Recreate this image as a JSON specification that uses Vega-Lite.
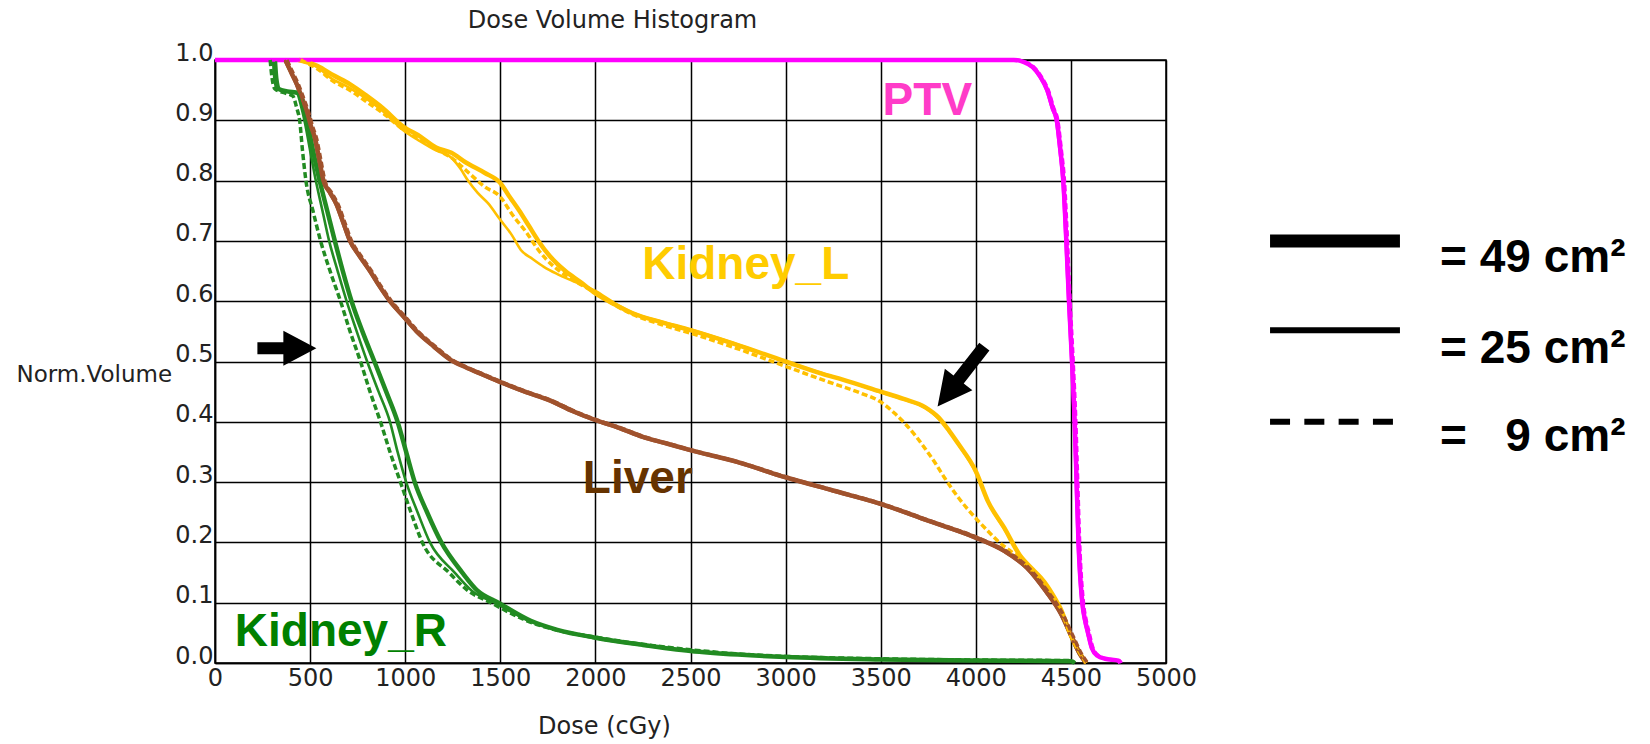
{
"$schema": "https://vega.github.io/schema/vega-lite/v6.json",
"autosize": {"type": "none"},
"padding": {"left": 215, "top": 60, "right": 484, "bottom": 81},
"width": 951,
"height": 603,
"background": "white",
"title": {"text": "Dose Volume Histogram", "anchor": "middle", "frame": "group", "dx": -78, "dy": 29, "baseline": "bottom", "offset": 13, "font": "DejaVu Sans", "fontSize": 24, "fontWeight": "normal", "color": "#222"},
"config": {
  "view": {"stroke": "#000", "strokeWidth": 1.5},
  "axis": {"labelFont": "DejaVu Sans", "labelFontSize": 24, "labelColor": "#222", "titleFont": "DejaVu Sans", "titleFontSize": 23, "titleFontWeight": "normal", "titleColor": "#222", "gridColor": "#000", "gridOpacity": 1, "gridWidth": 1.5, "domainColor": "#000", "domainWidth": 1.5, "ticks": false, "labelFlush": false, "labelOverlap": false}
},
"datasets": {
"curves": [
{"s":"PTV","f":"49","d":0,"v":1},{"s":"PTV","f":"49","d":4200,"v":1},{"s":"PTV","f":"49","d":4250,"v":0.997},{"s":"PTV","f":"49","d":4300,"v":0.988},{"s":"PTV","f":"49","d":4340,"v":0.972},{"s":"PTV","f":"49","d":4376,"v":0.95},{"s":"PTV","f":"49","d":4405,"v":0.92},{"s":"PTV","f":"49","d":4426,"v":0.9},{"s":"PTV","f":"49","d":4445,"v":0.85},{"s":"PTV","f":"49","d":4460,"v":0.8},{"s":"PTV","f":"49","d":4476,"v":0.7},{"s":"PTV","f":"49","d":4490,"v":0.6},{"s":"PTV","f":"49","d":4506,"v":0.5},{"s":"PTV","f":"49","d":4520,"v":0.4},{"s":"PTV","f":"49","d":4530,"v":0.3},{"s":"PTV","f":"49","d":4540,"v":0.2},{"s":"PTV","f":"49","d":4560,"v":0.1},{"s":"PTV","f":"49","d":4575,"v":0.07},{"s":"PTV","f":"49","d":4590,"v":0.05},{"s":"PTV","f":"49","d":4610,"v":0.025},{"s":"PTV","f":"49","d":4640,"v":0.012},{"s":"PTV","f":"49","d":4680,"v":0.007},{"s":"PTV","f":"49","d":4750,"v":0.004},{"s":"PTV","f":"49","d":4760,"v":0},
{"s":"PTV","f":"25","d":0,"v":1},{"s":"PTV","f":"25","d":4195,"v":1},{"s":"PTV","f":"25","d":4245,"v":0.997},{"s":"PTV","f":"25","d":4295,"v":0.988},{"s":"PTV","f":"25","d":4335,"v":0.972},{"s":"PTV","f":"25","d":4371,"v":0.95},{"s":"PTV","f":"25","d":4400,"v":0.92},{"s":"PTV","f":"25","d":4421,"v":0.9},{"s":"PTV","f":"25","d":4440,"v":0.85},{"s":"PTV","f":"25","d":4456,"v":0.8},{"s":"PTV","f":"25","d":4472,"v":0.7},{"s":"PTV","f":"25","d":4486,"v":0.6},{"s":"PTV","f":"25","d":4502,"v":0.5},{"s":"PTV","f":"25","d":4516,"v":0.4},{"s":"PTV","f":"25","d":4526,"v":0.3},{"s":"PTV","f":"25","d":4536,"v":0.2},{"s":"PTV","f":"25","d":4556,"v":0.1},{"s":"PTV","f":"25","d":4571,"v":0.07},{"s":"PTV","f":"25","d":4586,"v":0.05},{"s":"PTV","f":"25","d":4606,"v":0.025},{"s":"PTV","f":"25","d":4636,"v":0.012},{"s":"PTV","f":"25","d":4676,"v":0.007},{"s":"PTV","f":"25","d":4745,"v":0.004},{"s":"PTV","f":"25","d":4755,"v":0},
{"s":"PTV","f":"9","d":0,"v":1},{"s":"PTV","f":"9","d":4205,"v":1},{"s":"PTV","f":"9","d":4255,"v":0.997},{"s":"PTV","f":"9","d":4305,"v":0.988},{"s":"PTV","f":"9","d":4345,"v":0.972},{"s":"PTV","f":"9","d":4381,"v":0.95},{"s":"PTV","f":"9","d":4410,"v":0.92},{"s":"PTV","f":"9","d":4431,"v":0.9},{"s":"PTV","f":"9","d":4450,"v":0.85},{"s":"PTV","f":"9","d":4466,"v":0.8},{"s":"PTV","f":"9","d":4482,"v":0.7},{"s":"PTV","f":"9","d":4496,"v":0.6},{"s":"PTV","f":"9","d":4512,"v":0.5},{"s":"PTV","f":"9","d":4526,"v":0.4},{"s":"PTV","f":"9","d":4536,"v":0.3},{"s":"PTV","f":"9","d":4546,"v":0.2},{"s":"PTV","f":"9","d":4566,"v":0.1},{"s":"PTV","f":"9","d":4581,"v":0.07},{"s":"PTV","f":"9","d":4596,"v":0.05},{"s":"PTV","f":"9","d":4616,"v":0.025},{"s":"PTV","f":"9","d":4646,"v":0.012},{"s":"PTV","f":"9","d":4686,"v":0.007},{"s":"PTV","f":"9","d":4755,"v":0.004},{"s":"PTV","f":"9","d":4765,"v":0},

{"s":"Kidney_L","f":"49","d":440,"v":1},{"s":"Kidney_L","f":"49","d":540,"v":0.99},{"s":"Kidney_L","f":"49","d":620,"v":0.975},{"s":"Kidney_L","f":"49","d":709,"v":0.96},{"s":"Kidney_L","f":"49","d":800,"v":0.94},{"s":"Kidney_L","f":"49","d":883,"v":0.92},{"s":"Kidney_L","f":"49","d":988,"v":0.89},{"s":"Kidney_L","f":"49","d":1080,"v":0.873},{"s":"Kidney_L","f":"49","d":1162,"v":0.855},{"s":"Kidney_L","f":"49","d":1243,"v":0.846},{"s":"Kidney_L","f":"49","d":1319,"v":0.83},{"s":"Kidney_L","f":"49","d":1417,"v":0.813},{"s":"Kidney_L","f":"49","d":1500,"v":0.796},{"s":"Kidney_L","f":"49","d":1545,"v":0.775},{"s":"Kidney_L","f":"49","d":1600,"v":0.75},{"s":"Kidney_L","f":"49","d":1650,"v":0.725},{"s":"Kidney_L","f":"49","d":1700,"v":0.7},{"s":"Kidney_L","f":"49","d":1760,"v":0.675},{"s":"Kidney_L","f":"49","d":1842,"v":0.65},{"s":"Kidney_L","f":"49","d":1920,"v":0.632},{"s":"Kidney_L","f":"49","d":2000,"v":0.613},{"s":"Kidney_L","f":"49","d":2100,"v":0.595},{"s":"Kidney_L","f":"49","d":2196,"v":0.58},{"s":"Kidney_L","f":"49","d":2350,"v":0.565},{"s":"Kidney_L","f":"49","d":2500,"v":0.552},{"s":"Kidney_L","f":"49","d":2722,"v":0.53},{"s":"Kidney_L","f":"49","d":3000,"v":0.5},{"s":"Kidney_L","f":"49","d":3190,"v":0.48},{"s":"Kidney_L","f":"49","d":3300,"v":0.47},{"s":"Kidney_L","f":"49","d":3500,"v":0.45},{"s":"Kidney_L","f":"49","d":3620,"v":0.438},{"s":"Kidney_L","f":"49","d":3735,"v":0.424},{"s":"Kidney_L","f":"49","d":3805,"v":0.407},{"s":"Kidney_L","f":"49","d":3860,"v":0.385},{"s":"Kidney_L","f":"49","d":3909,"v":0.363},{"s":"Kidney_L","f":"49","d":4000,"v":0.318},{"s":"Kidney_L","f":"49","d":4064,"v":0.268},{"s":"Kidney_L","f":"49","d":4150,"v":0.224},{"s":"Kidney_L","f":"49","d":4229,"v":0.18},{"s":"Kidney_L","f":"49","d":4300,"v":0.155},{"s":"Kidney_L","f":"49","d":4359,"v":0.135},{"s":"Kidney_L","f":"49","d":4420,"v":0.105},{"s":"Kidney_L","f":"49","d":4446,"v":0.09},{"s":"Kidney_L","f":"49","d":4498,"v":0.047},{"s":"Kidney_L","f":"49","d":4540,"v":0.02},{"s":"Kidney_L","f":"49","d":4568,"v":0.006},{"s":"Kidney_L","f":"49","d":4580,"v":0},
{"s":"Kidney_L","f":"25","d":430,"v":1},{"s":"Kidney_L","f":"25","d":530,"v":0.99},{"s":"Kidney_L","f":"25","d":610,"v":0.97},{"s":"Kidney_L","f":"25","d":700,"v":0.955},{"s":"Kidney_L","f":"25","d":800,"v":0.935},{"s":"Kidney_L","f":"25","d":883,"v":0.915},{"s":"Kidney_L","f":"25","d":988,"v":0.884},{"s":"Kidney_L","f":"25","d":1080,"v":0.865},{"s":"Kidney_L","f":"25","d":1162,"v":0.85},{"s":"Kidney_L","f":"25","d":1243,"v":0.838},{"s":"Kidney_L","f":"25","d":1290,"v":0.82},{"s":"Kidney_L","f":"25","d":1330,"v":0.8},{"s":"Kidney_L","f":"25","d":1380,"v":0.78},{"s":"Kidney_L","f":"25","d":1434,"v":0.763},{"s":"Kidney_L","f":"25","d":1500,"v":0.735},{"s":"Kidney_L","f":"25","d":1560,"v":0.71},{"s":"Kidney_L","f":"25","d":1608,"v":0.685},{"s":"Kidney_L","f":"25","d":1670,"v":0.67},{"s":"Kidney_L","f":"25","d":1729,"v":0.657},{"s":"Kidney_L","f":"25","d":1800,"v":0.645},{"s":"Kidney_L","f":"25","d":1885,"v":0.633},{"s":"Kidney_L","f":"25","d":2000,"v":0.617},{"s":"Kidney_L","f":"25","d":2100,"v":0.597},{"s":"Kidney_L","f":"25","d":2196,"v":0.581},{"s":"Kidney_L","f":"25","d":2350,"v":0.566},{"s":"Kidney_L","f":"25","d":2500,"v":0.553},{"s":"Kidney_L","f":"25","d":2722,"v":0.531},{"s":"Kidney_L","f":"25","d":3000,"v":0.5},{"s":"Kidney_L","f":"25","d":3190,"v":0.481},{"s":"Kidney_L","f":"25","d":3300,"v":0.47},{"s":"Kidney_L","f":"25","d":3500,"v":0.449},{"s":"Kidney_L","f":"25","d":3620,"v":0.437},{"s":"Kidney_L","f":"25","d":3735,"v":0.423},{"s":"Kidney_L","f":"25","d":3805,"v":0.405},{"s":"Kidney_L","f":"25","d":3860,"v":0.384},{"s":"Kidney_L","f":"25","d":3909,"v":0.362},{"s":"Kidney_L","f":"25","d":4000,"v":0.316},{"s":"Kidney_L","f":"25","d":4064,"v":0.267},{"s":"Kidney_L","f":"25","d":4150,"v":0.222},{"s":"Kidney_L","f":"25","d":4229,"v":0.179},{"s":"Kidney_L","f":"25","d":4300,"v":0.154},{"s":"Kidney_L","f":"25","d":4359,"v":0.134},{"s":"Kidney_L","f":"25","d":4420,"v":0.104},{"s":"Kidney_L","f":"25","d":4446,"v":0.089},{"s":"Kidney_L","f":"25","d":4498,"v":0.046},{"s":"Kidney_L","f":"25","d":4540,"v":0.019},{"s":"Kidney_L","f":"25","d":4568,"v":0.005},{"s":"Kidney_L","f":"25","d":4580,"v":0},
{"s":"Kidney_L","f":"9","d":450,"v":1},{"s":"Kidney_L","f":"9","d":540,"v":0.985},{"s":"Kidney_L","f":"9","d":620,"v":0.965},{"s":"Kidney_L","f":"9","d":709,"v":0.95},{"s":"Kidney_L","f":"9","d":800,"v":0.93},{"s":"Kidney_L","f":"9","d":883,"v":0.912},{"s":"Kidney_L","f":"9","d":988,"v":0.885},{"s":"Kidney_L","f":"9","d":1080,"v":0.868},{"s":"Kidney_L","f":"9","d":1162,"v":0.852},{"s":"Kidney_L","f":"9","d":1243,"v":0.838},{"s":"Kidney_L","f":"9","d":1330,"v":0.814},{"s":"Kidney_L","f":"9","d":1417,"v":0.79},{"s":"Kidney_L","f":"9","d":1500,"v":0.773},{"s":"Kidney_L","f":"9","d":1560,"v":0.745},{"s":"Kidney_L","f":"9","d":1642,"v":0.712},{"s":"Kidney_L","f":"9","d":1700,"v":0.685},{"s":"Kidney_L","f":"9","d":1746,"v":0.668},{"s":"Kidney_L","f":"9","d":1820,"v":0.648},{"s":"Kidney_L","f":"9","d":1900,"v":0.632},{"s":"Kidney_L","f":"9","d":2000,"v":0.614},{"s":"Kidney_L","f":"9","d":2100,"v":0.594},{"s":"Kidney_L","f":"9","d":2196,"v":0.578},{"s":"Kidney_L","f":"9","d":2350,"v":0.561},{"s":"Kidney_L","f":"9","d":2500,"v":0.547},{"s":"Kidney_L","f":"9","d":2722,"v":0.524},{"s":"Kidney_L","f":"9","d":3000,"v":0.492},{"s":"Kidney_L","f":"9","d":3226,"v":0.466},{"s":"Kidney_L","f":"9","d":3400,"v":0.447},{"s":"Kidney_L","f":"9","d":3500,"v":0.433},{"s":"Kidney_L","f":"9","d":3570,"v":0.415},{"s":"Kidney_L","f":"9","d":3631,"v":0.396},{"s":"Kidney_L","f":"9","d":3690,"v":0.374},{"s":"Kidney_L","f":"9","d":3735,"v":0.355},{"s":"Kidney_L","f":"9","d":3790,"v":0.33},{"s":"Kidney_L","f":"9","d":3840,"v":0.305},{"s":"Kidney_L","f":"9","d":3909,"v":0.274},{"s":"Kidney_L","f":"9","d":4000,"v":0.24},{"s":"Kidney_L","f":"9","d":4060,"v":0.22},{"s":"Kidney_L","f":"9","d":4117,"v":0.202},{"s":"Kidney_L","f":"9","d":4229,"v":0.174},{"s":"Kidney_L","f":"9","d":4300,"v":0.152},{"s":"Kidney_L","f":"9","d":4359,"v":0.133},{"s":"Kidney_L","f":"9","d":4420,"v":0.104},{"s":"Kidney_L","f":"9","d":4446,"v":0.089},{"s":"Kidney_L","f":"9","d":4498,"v":0.046},{"s":"Kidney_L","f":"9","d":4540,"v":0.02},{"s":"Kidney_L","f":"9","d":4568,"v":0.006},{"s":"Kidney_L","f":"9","d":4580,"v":0},

{"s":"Liver","f":"49","d":370,"v":1},{"s":"Liver","f":"49","d":400,"v":0.98},{"s":"Liver","f":"49","d":430,"v":0.96},{"s":"Liver","f":"49","d":460,"v":0.935},{"s":"Liver","f":"49","d":483,"v":0.915},{"s":"Liver","f":"49","d":505,"v":0.89},{"s":"Liver","f":"49","d":526,"v":0.87},{"s":"Liver","f":"49","d":548,"v":0.835},{"s":"Liver","f":"49","d":570,"v":0.8},{"s":"Liver","f":"49","d":605,"v":0.78},{"s":"Liver","f":"49","d":640,"v":0.76},{"s":"Liver","f":"49","d":675,"v":0.73},{"s":"Liver","f":"49","d":710,"v":0.7},{"s":"Liver","f":"49","d":760,"v":0.675},{"s":"Liver","f":"49","d":815,"v":0.65},{"s":"Liver","f":"49","d":865,"v":0.625},{"s":"Liver","f":"49","d":920,"v":0.6},{"s":"Liver","f":"49","d":990,"v":0.575},{"s":"Liver","f":"49","d":1060,"v":0.55},{"s":"Liver","f":"49","d":1150,"v":0.525},{"s":"Liver","f":"49","d":1243,"v":0.502},{"s":"Liver","f":"49","d":1320,"v":0.49},{"s":"Liver","f":"49","d":1410,"v":0.478},{"s":"Liver","f":"49","d":1500,"v":0.466},{"s":"Liver","f":"49","d":1630,"v":0.45},{"s":"Liver","f":"49","d":1764,"v":0.435},{"s":"Liver","f":"49","d":1880,"v":0.418},{"s":"Liver","f":"49","d":2000,"v":0.403},{"s":"Liver","f":"49","d":2125,"v":0.39},{"s":"Liver","f":"49","d":2250,"v":0.375},{"s":"Liver","f":"49","d":2375,"v":0.364},{"s":"Liver","f":"49","d":2500,"v":0.353},{"s":"Liver","f":"49","d":2750,"v":0.333},{"s":"Liver","f":"49","d":3000,"v":0.308},{"s":"Liver","f":"49","d":3250,"v":0.286},{"s":"Liver","f":"49","d":3500,"v":0.264},{"s":"Liver","f":"49","d":3750,"v":0.236},{"s":"Liver","f":"49","d":4000,"v":0.208},{"s":"Liver","f":"49","d":4150,"v":0.186},{"s":"Liver","f":"49","d":4270,"v":0.158},{"s":"Liver","f":"49","d":4370,"v":0.119},{"s":"Liver","f":"49","d":4450,"v":0.081},{"s":"Liver","f":"49","d":4500,"v":0.047},{"s":"Liver","f":"49","d":4550,"v":0.014},{"s":"Liver","f":"49","d":4580,"v":0},
{"s":"Liver","f":"25","d":365,"v":1},{"s":"Liver","f":"25","d":395,"v":0.98},{"s":"Liver","f":"25","d":425,"v":0.96},{"s":"Liver","f":"25","d":455,"v":0.935},{"s":"Liver","f":"25","d":478,"v":0.915},{"s":"Liver","f":"25","d":500,"v":0.89},{"s":"Liver","f":"25","d":521,"v":0.87},{"s":"Liver","f":"25","d":543,"v":0.835},{"s":"Liver","f":"25","d":565,"v":0.8},{"s":"Liver","f":"25","d":600,"v":0.78},{"s":"Liver","f":"25","d":635,"v":0.76},{"s":"Liver","f":"25","d":670,"v":0.73},{"s":"Liver","f":"25","d":705,"v":0.7},{"s":"Liver","f":"25","d":755,"v":0.675},{"s":"Liver","f":"25","d":810,"v":0.65},{"s":"Liver","f":"25","d":860,"v":0.625},{"s":"Liver","f":"25","d":915,"v":0.6},{"s":"Liver","f":"25","d":985,"v":0.575},{"s":"Liver","f":"25","d":1055,"v":0.55},{"s":"Liver","f":"25","d":1145,"v":0.525},{"s":"Liver","f":"25","d":1238,"v":0.502},{"s":"Liver","f":"25","d":1315,"v":0.49},{"s":"Liver","f":"25","d":1405,"v":0.477},{"s":"Liver","f":"25","d":1495,"v":0.465},{"s":"Liver","f":"25","d":1625,"v":0.449},{"s":"Liver","f":"25","d":1760,"v":0.434},{"s":"Liver","f":"25","d":1875,"v":0.417},{"s":"Liver","f":"25","d":1995,"v":0.402},{"s":"Liver","f":"25","d":2120,"v":0.389},{"s":"Liver","f":"25","d":2245,"v":0.374},{"s":"Liver","f":"25","d":2370,"v":0.363},{"s":"Liver","f":"25","d":2495,"v":0.352},{"s":"Liver","f":"25","d":2745,"v":0.332},{"s":"Liver","f":"25","d":2995,"v":0.307},{"s":"Liver","f":"25","d":3245,"v":0.285},{"s":"Liver","f":"25","d":3495,"v":0.263},{"s":"Liver","f":"25","d":3745,"v":0.235},{"s":"Liver","f":"25","d":3995,"v":0.207},{"s":"Liver","f":"25","d":4145,"v":0.185},{"s":"Liver","f":"25","d":4265,"v":0.157},{"s":"Liver","f":"25","d":4365,"v":0.118},{"s":"Liver","f":"25","d":4445,"v":0.08},{"s":"Liver","f":"25","d":4495,"v":0.046},{"s":"Liver","f":"25","d":4545,"v":0.013},{"s":"Liver","f":"25","d":4575,"v":0},
{"s":"Liver","f":"9","d":378,"v":1},{"s":"Liver","f":"9","d":408,"v":0.98},{"s":"Liver","f":"9","d":438,"v":0.96},{"s":"Liver","f":"9","d":468,"v":0.935},{"s":"Liver","f":"9","d":491,"v":0.915},{"s":"Liver","f":"9","d":513,"v":0.89},{"s":"Liver","f":"9","d":534,"v":0.87},{"s":"Liver","f":"9","d":556,"v":0.835},{"s":"Liver","f":"9","d":578,"v":0.8},{"s":"Liver","f":"9","d":613,"v":0.78},{"s":"Liver","f":"9","d":648,"v":0.76},{"s":"Liver","f":"9","d":683,"v":0.73},{"s":"Liver","f":"9","d":718,"v":0.7},{"s":"Liver","f":"9","d":768,"v":0.675},{"s":"Liver","f":"9","d":823,"v":0.65},{"s":"Liver","f":"9","d":873,"v":0.625},{"s":"Liver","f":"9","d":928,"v":0.6},{"s":"Liver","f":"9","d":998,"v":0.575},{"s":"Liver","f":"9","d":1068,"v":0.55},{"s":"Liver","f":"9","d":1158,"v":0.525},{"s":"Liver","f":"9","d":1251,"v":0.502},{"s":"Liver","f":"9","d":1328,"v":0.49},{"s":"Liver","f":"9","d":1418,"v":0.478},{"s":"Liver","f":"9","d":1508,"v":0.466},{"s":"Liver","f":"9","d":1638,"v":0.45},{"s":"Liver","f":"9","d":1772,"v":0.435},{"s":"Liver","f":"9","d":1888,"v":0.418},{"s":"Liver","f":"9","d":2008,"v":0.403},{"s":"Liver","f":"9","d":2133,"v":0.39},{"s":"Liver","f":"9","d":2258,"v":0.375},{"s":"Liver","f":"9","d":2383,"v":0.364},{"s":"Liver","f":"9","d":2508,"v":0.353},{"s":"Liver","f":"9","d":2758,"v":0.333},{"s":"Liver","f":"9","d":3008,"v":0.308},{"s":"Liver","f":"9","d":3258,"v":0.286},{"s":"Liver","f":"9","d":3508,"v":0.264},{"s":"Liver","f":"9","d":3758,"v":0.236},{"s":"Liver","f":"9","d":4008,"v":0.208},{"s":"Liver","f":"9","d":4158,"v":0.186},{"s":"Liver","f":"9","d":4278,"v":0.158},{"s":"Liver","f":"9","d":4378,"v":0.119},{"s":"Liver","f":"9","d":4458,"v":0.081},{"s":"Liver","f":"9","d":4508,"v":0.047},{"s":"Liver","f":"9","d":4558,"v":0.014},{"s":"Liver","f":"9","d":4588,"v":0},

{"s":"Kidney_R","f":"49","d":315,"v":1},{"s":"Kidney_R","f":"49","d":322,"v":0.97},{"s":"Kidney_R","f":"49","d":335,"v":0.952},{"s":"Kidney_R","f":"49","d":380,"v":0.948},{"s":"Kidney_R","f":"49","d":440,"v":0.945},{"s":"Kidney_R","f":"49","d":465,"v":0.92},{"s":"Kidney_R","f":"49","d":483,"v":0.9},{"s":"Kidney_R","f":"49","d":515,"v":0.85},{"s":"Kidney_R","f":"49","d":550,"v":0.8},{"s":"Kidney_R","f":"49","d":590,"v":0.75},{"s":"Kidney_R","f":"49","d":630,"v":0.7},{"s":"Kidney_R","f":"49","d":672,"v":0.65},{"s":"Kidney_R","f":"49","d":718,"v":0.6},{"s":"Kidney_R","f":"49","d":775,"v":0.55},{"s":"Kidney_R","f":"49","d":838,"v":0.5},{"s":"Kidney_R","f":"49","d":900,"v":0.45},{"s":"Kidney_R","f":"49","d":960,"v":0.4},{"s":"Kidney_R","f":"49","d":1005,"v":0.35},{"s":"Kidney_R","f":"49","d":1050,"v":0.3},{"s":"Kidney_R","f":"49","d":1115,"v":0.25},{"s":"Kidney_R","f":"49","d":1190,"v":0.2},{"s":"Kidney_R","f":"49","d":1300,"v":0.15},{"s":"Kidney_R","f":"49","d":1380,"v":0.12},{"s":"Kidney_R","f":"49","d":1490,"v":0.1},{"s":"Kidney_R","f":"49","d":1660,"v":0.07},{"s":"Kidney_R","f":"49","d":1800,"v":0.055},{"s":"Kidney_R","f":"49","d":2000,"v":0.042},{"s":"Kidney_R","f":"49","d":2250,"v":0.03},{"s":"Kidney_R","f":"49","d":2500,"v":0.02},{"s":"Kidney_R","f":"49","d":2750,"v":0.014},{"s":"Kidney_R","f":"49","d":3000,"v":0.01},{"s":"Kidney_R","f":"49","d":3500,"v":0.006},{"s":"Kidney_R","f":"49","d":4000,"v":0.004},{"s":"Kidney_R","f":"49","d":4500,"v":0.003},{"s":"Kidney_R","f":"49","d":4520,"v":0},
{"s":"Kidney_R","f":"25","d":305,"v":1},{"s":"Kidney_R","f":"25","d":312,"v":0.97},{"s":"Kidney_R","f":"25","d":325,"v":0.952},{"s":"Kidney_R","f":"25","d":380,"v":0.948},{"s":"Kidney_R","f":"25","d":430,"v":0.945},{"s":"Kidney_R","f":"25","d":455,"v":0.92},{"s":"Kidney_R","f":"25","d":470,"v":0.9},{"s":"Kidney_R","f":"25","d":500,"v":0.85},{"s":"Kidney_R","f":"25","d":530,"v":0.8},{"s":"Kidney_R","f":"25","d":565,"v":0.75},{"s":"Kidney_R","f":"25","d":600,"v":0.7},{"s":"Kidney_R","f":"25","d":645,"v":0.65},{"s":"Kidney_R","f":"25","d":692,"v":0.6},{"s":"Kidney_R","f":"25","d":745,"v":0.55},{"s":"Kidney_R","f":"25","d":800,"v":0.5},{"s":"Kidney_R","f":"25","d":860,"v":0.45},{"s":"Kidney_R","f":"25","d":920,"v":0.4},{"s":"Kidney_R","f":"25","d":960,"v":0.35},{"s":"Kidney_R","f":"25","d":1005,"v":0.3},{"s":"Kidney_R","f":"25","d":1065,"v":0.25},{"s":"Kidney_R","f":"25","d":1130,"v":0.2},{"s":"Kidney_R","f":"25","d":1260,"v":0.15},{"s":"Kidney_R","f":"25","d":1350,"v":0.12},{"s":"Kidney_R","f":"25","d":1470,"v":0.1},{"s":"Kidney_R","f":"25","d":1650,"v":0.07},{"s":"Kidney_R","f":"25","d":1790,"v":0.055},{"s":"Kidney_R","f":"25","d":2000,"v":0.041},{"s":"Kidney_R","f":"25","d":2250,"v":0.029},{"s":"Kidney_R","f":"25","d":2500,"v":0.02},{"s":"Kidney_R","f":"25","d":2750,"v":0.014},{"s":"Kidney_R","f":"25","d":3000,"v":0.01},{"s":"Kidney_R","f":"25","d":3500,"v":0.006},{"s":"Kidney_R","f":"25","d":4000,"v":0.004},{"s":"Kidney_R","f":"25","d":4500,"v":0.003},{"s":"Kidney_R","f":"25","d":4520,"v":0},
{"s":"Kidney_R","f":"9","d":290,"v":1},{"s":"Kidney_R","f":"9","d":300,"v":0.97},{"s":"Kidney_R","f":"9","d":315,"v":0.952},{"s":"Kidney_R","f":"9","d":370,"v":0.945},{"s":"Kidney_R","f":"9","d":410,"v":0.94},{"s":"Kidney_R","f":"9","d":430,"v":0.92},{"s":"Kidney_R","f":"9","d":445,"v":0.9},{"s":"Kidney_R","f":"9","d":460,"v":0.85},{"s":"Kidney_R","f":"9","d":478,"v":0.8},{"s":"Kidney_R","f":"9","d":515,"v":0.75},{"s":"Kidney_R","f":"9","d":555,"v":0.7},{"s":"Kidney_R","f":"9","d":605,"v":0.65},{"s":"Kidney_R","f":"9","d":660,"v":0.6},{"s":"Kidney_R","f":"9","d":710,"v":0.55},{"s":"Kidney_R","f":"9","d":765,"v":0.5},{"s":"Kidney_R","f":"9","d":815,"v":0.45},{"s":"Kidney_R","f":"9","d":870,"v":0.4},{"s":"Kidney_R","f":"9","d":920,"v":0.35},{"s":"Kidney_R","f":"9","d":975,"v":0.3},{"s":"Kidney_R","f":"9","d":1030,"v":0.25},{"s":"Kidney_R","f":"9","d":1090,"v":0.2},{"s":"Kidney_R","f":"9","d":1230,"v":0.15},{"s":"Kidney_R","f":"9","d":1330,"v":0.12},{"s":"Kidney_R","f":"9","d":1450,"v":0.1},{"s":"Kidney_R","f":"9","d":1640,"v":0.07},{"s":"Kidney_R","f":"9","d":1790,"v":0.055},{"s":"Kidney_R","f":"9","d":2000,"v":0.043},{"s":"Kidney_R","f":"9","d":2250,"v":0.031},{"s":"Kidney_R","f":"9","d":2500,"v":0.022},{"s":"Kidney_R","f":"9","d":2750,"v":0.015},{"s":"Kidney_R","f":"9","d":3000,"v":0.011},{"s":"Kidney_R","f":"9","d":3500,"v":0.007},{"s":"Kidney_R","f":"9","d":4000,"v":0.005},{"s":"Kidney_R","f":"9","d":4500,"v":0.004},{"s":"Kidney_R","f":"9","d":4520,"v":0}
],
"labels": [
{"s":"PTV","d":3510,"v":0.909},
{"s":"Kidney_L","d":2246,"v":0.636},
{"s":"Liver","d":1934,"v":0.282},
{"s":"Kidney_R","d":104,"v":0.028}
],
"legendLines": [
{"k":"49","d":5547,"d2":6230,"v":0.7},
{"k":"25","d":5547,"d2":6230,"v":0.552},
{"k":"9","d":5547,"d2":6230,"v":0.4}
],
"legendText": [
{"t":"= 49 cm²","d":6441,"v":0.648},
{"t":"= 25 cm²","d":6441,"v":0.498},
{"t":"=\u00a0\u00a0\u00a09 cm²","d":6441,"v":0.351}
]
},
"encoding": {
  "x": {"field": "d", "type": "quantitative", "scale": {"domain": [0, 5000], "nice": false, "zero": false},
        "axis": {"values": [0,500,1000,1500,2000,2500,3000,3500,4000,4500,5000], "format": "d", "labelFont": "DejaVu Sans", "labelFontSize": 24, "labelPadding": 3, "title": "Dose (cGy)", "titleFontSize": 24, "titleX": 389, "titleY": 63, "titleAlign": "center", "titleBaseline": "middle"}},
  "y": {"field": "v", "type": "quantitative", "scale": {"domain": [0, 1], "nice": false},
        "axis": {"values": [0,0.1,0.2,0.3,0.4,0.5,0.6,0.7,0.8,0.9,1], "format": ".1f", "labelFont": "DejaVu Sans", "labelFontSize": 24, "labelPadding": 2, "labelBaseline": "alphabetic", "labelOffset": 0, "title": "Norm.Volume", "titleFontSize": 23, "titleAngle": 0, "titleX": -199, "titleY": 314, "titleAlign": "left", "titleBaseline": "middle"}}
},
"layer": [
  {
    "data": {"name": "curves"},
    "transform": [{"filter": "datum.f == '49'"}],
    "mark": {"type": "line", "interpolate": "monotone", "strokeWidth": 4.5, "strokeCap": "butt"},
    "encoding": {
      "color": {"field": "s", "type": "nominal", "scale": {"domain": ["Kidney_R","Liver","Kidney_L","PTV"], "range": ["#228B22","#A0522D","#FFC000","#FF00FF"]}, "legend": null}
    }
  },
  {
    "data": {"name": "curves"},
    "transform": [{"filter": "datum.f == '25'"}],
    "mark": {"type": "line", "interpolate": "monotone", "strokeWidth": 2.6, "strokeCap": "butt"},
    "encoding": {
      "color": {"field": "s", "type": "nominal", "scale": {"domain": ["Kidney_R","Liver","Kidney_L","PTV"], "range": ["#228B22","#A0522D","#FFC000","#FF00FF"]}, "legend": null}
    }
  },
  {
    "data": {"name": "curves"},
    "transform": [{"filter": "datum.f == '9'"}],
    "mark": {"type": "line", "interpolate": "monotone", "strokeWidth": 3.5, "strokeCap": "butt", "strokeDash": [6, 3]},
    "encoding": {
      "color": {"field": "s", "type": "nominal", "scale": {"domain": ["Kidney_R","Liver","Kidney_L","PTV"], "range": ["#228B22","#A0522D","#FFC000","#FF00FF"]}, "legend": null}
    }
  },
  {
    "data": {"name": "labels"},
    "mark": {"type": "text", "align": "left", "baseline": "alphabetic", "font": "Liberation Sans", "fontWeight": "bold", "fontSize": 46},
    "encoding": {
      "text": {"field": "s"},
      "color": {"field": "s", "type": "nominal", "scale": {"domain": ["Kidney_R","Liver","Kidney_L","PTV"], "range": ["#008000","#663300","#FFCC00","#FF3CC8"]}, "legend": null}
    }
  },
  {
    "data": {"name": "legendLines"},
    "transform": [{"filter": "datum.k == '49'"}],
    "mark": {"type": "rule", "color": "#000", "strokeWidth": 13, "strokeCap": "butt"},
    "encoding": {"x2": {"field": "d2"}}
  },
  {
    "data": {"name": "legendLines"},
    "transform": [{"filter": "datum.k == '25'"}],
    "mark": {"type": "rule", "color": "#000", "strokeWidth": 6, "strokeCap": "butt"},
    "encoding": {"x2": {"field": "d2"}}
  },
  {
    "data": {"name": "legendLines"},
    "transform": [{"filter": "datum.k == '9'"}],
    "mark": {"type": "rule", "color": "#000", "strokeWidth": 6, "strokeCap": "butt", "strokeDash": [20, 14.3]},
    "encoding": {"x2": {"field": "d2"}}
  },
  {
    "data": {"name": "legendText"},
    "mark": {"type": "text", "align": "left", "baseline": "alphabetic", "font": "Liberation Sans", "fontWeight": "bold", "fontSize": 46, "color": "#000"},
    "encoding": {"text": {"field": "t"}}
  },
  {
    "data": {"values": [{"d": 378, "v": 0.522}]},
    "mark": {"type": "point", "filled": true, "color": "#000", "opacity": 1, "strokeWidth": 0, "size": 3481, "shape": "M -1 -0.2 L -0.12 -0.2 L -0.12 -0.59 L 1 0 L -0.12 0.59 L -0.12 0.2 L -1 0.2 Z"}
  },
  {
    "data": {"values": [{"d": 3922, "v": 0.475}]},
    "mark": {"type": "point", "filled": true, "color": "#000", "opacity": 1, "strokeWidth": 0, "size": 5776, "angle": 128, "shape": "M -1 -0.17 L 0.1 -0.17 L 0.1 -0.46 L 1 0 L 0.1 0.46 L 0.1 0.17 L -1 0.17 Z"}
  }
],
"resolve": {"scale": {"color": "independent"}}
}
